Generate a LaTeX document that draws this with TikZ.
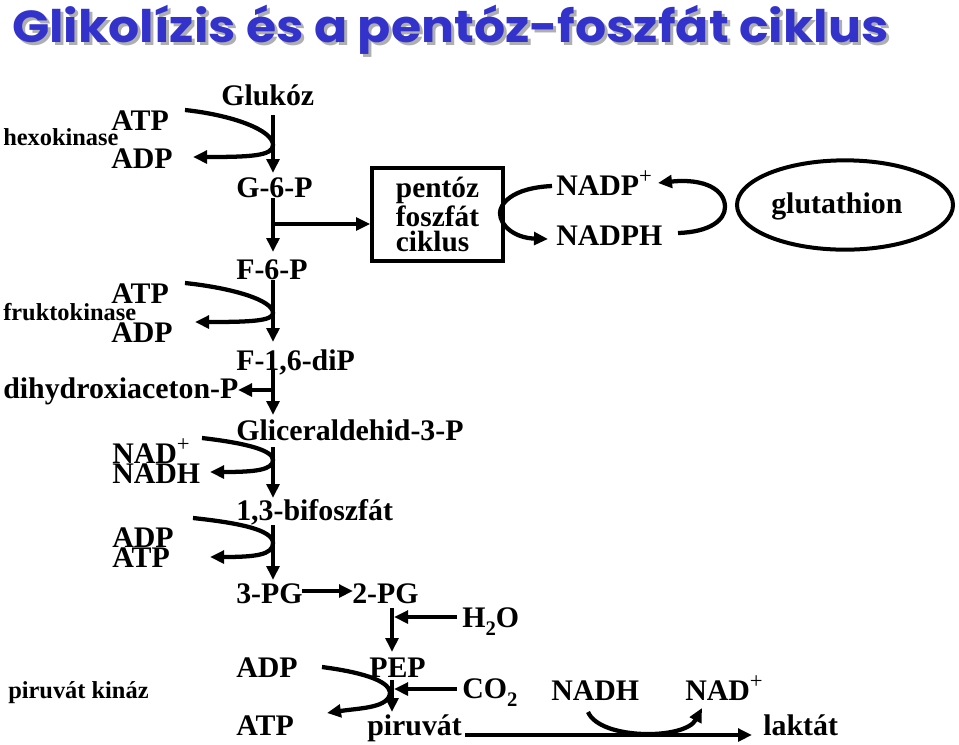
\documentclass[tikz,border=0pt]{standalone}
\usepackage{fontspec}
\setmainfont{Liberation Serif}
\newfontfamily\titlefam{Poppins}
\usetikzlibrary{arrows.meta,shapes.geometric}
\definecolor{titleblue}{RGB}{51,51,204}
\definecolor{shadowgray}{RGB}{175,175,175}
\newcommand\mainfs{\fontsize{22.4}{25}\selectfont\bfseries}
\newcommand\smallfs{\fontsize{18.3}{20}\selectfont\bfseries}
\newcommand\supp[1]{\raisebox{0.4em}{\fontsize{17}{17}\selectfont\mdseries #1}}
\newcommand\subb[1]{\raisebox{-0.3em}{\fontsize{15.5}{15.5}\selectfont #1}}
\newcommand\titletext{\resizebox*{657pt}{37pt}{\titlefam\bfseries Glikolízis és a pentóz-foszfát ciklus}}
\tikzset{
  lbl/.style={anchor=base west, inner sep=0pt, font=\mainfs},
  sml/.style={anchor=base west, inner sep=0pt, font=\smallfs},
  arr/.style={line width=3pt, -{Triangle[length=10.5pt,width=9.5pt]}},
  curv/.style={line width=3.2pt, -{Triangle[length=10.5pt,width=9.5pt]}}
}
\begin{document}
\begin{tikzpicture}[x=0.75pt,y=-0.75pt]
\useasboundingbox (0,0) rectangle (959,744);
% title
\node[anchor=north west, inner sep=0pt, text=shadowgray] (titleshadow) at (15,8) {\titletext};
\node[anchor=north west, inner sep=0pt, text=titleblue] (title) at (12,5) {\titletext};
% labels
\node[lbl] (gluk) at (221,105) {Glukóz};
\node[lbl] (hATP) at (111,130) {ATP};
\node[sml] (hexo) at (3,145) {hexokinase};
\node[lbl] (hADP) at (111,168) {ADP};
\node[lbl] (g6p) at (236,197) {G-6-P};
\node[lbl] (f6p) at (236,279) {F-6-P};
\node[lbl] (fATP) at (111,303) {ATP};
\node[sml] (frukto) at (3,320) {fruktokinase};
\node[lbl] (fADP) at (111,342) {ADP};
\node[lbl] (f16) at (236,370) {F-1,6-diP};
\node[lbl] (dhap) at (3,398) {dihydroxiaceton-P};
\node[lbl] (gap) at (236,440) {Gliceraldehid-3-P};
\node[lbl] (nadp) at (112,463) {NAD\supp{+}};
\node[lbl] (nadh) at (112,483) {NADH};
\node[lbl] (bif) at (236,520) {1,3-bifoszfát};
\node[lbl] (adp2) at (112,547) {ADP};
\node[lbl] (atp2) at (112,567) {ATP};
\node[lbl] (pg3) at (236,603) {3-PG};
\node[lbl] (pg2) at (352,603) {2-PG};
\node[lbl] (h2o) at (462,627) {H\subb{2}O};
\node[lbl] (adp3) at (236,677) {ADP};
\node[lbl] (pep) at (369,677) {PEP};
\node[sml] (pk) at (8,698) {piruvát kináz};
\node[lbl] (co2) at (462,698) {CO\subb{2}};
\node[lbl] (nadhb) at (551,700) {NADH};
\node[lbl] (nadpb) at (685,700) {NAD\supp{+}};
\node[lbl] (atp3) at (236,735) {ATP};
\node[lbl] (pyr) at (367,735) {piruvát};
\node[lbl] (lak) at (763,735) {laktát};
\node[lbl] (nadpp) at (556,195) {NADP\supp{+}};
\node[lbl] (nadph) at (556,245) {NADPH};
\node[lbl] (glut) at (771,213) {glutathion};
% pentose box and ellipse
\node[draw, line width=3pt, minimum width=98pt, minimum height=69.5pt, inner sep=0pt,
      align=left, font=\mainfs\fontsize{22}{18.75}\selectfont] (ppp) at (437.5,214.5) {pentóz\\foszfát\\ciklus};
\node[draw, ellipse, line width=3pt, minimum width=162pt, minimum height=67pt] (ell) at (845,205) {};
% spine coordinates
\coordinate (s1) at (273,115); \coordinate (e1) at (273,173);
\coordinate (s2) at (273,198); \coordinate (e2) at (273,252);
\coordinate (b2) at (273,224);
\coordinate (s3) at (273,280); \coordinate (e3) at (273,342);
\coordinate (s4) at (273,370); \coordinate (e4) at (273,415);
\coordinate (b4) at (273,390); \coordinate (t4) at (238,390);
\coordinate (s5) at (273,447); \coordinate (e5) at (273,498);
\coordinate (s6) at (273,525); \coordinate (e6) at (273,580);
\coordinate (s7) at (302,591); \coordinate (e7) at (353,591);
\coordinate (s8) at (392,608); \coordinate (e8) at (392,652);
\coordinate (w8) at (457,617); \coordinate (t8) at (394,617);
\coordinate (s9) at (392,680); \coordinate (e9) at (392,712);
\coordinate (w9) at (457,689); \coordinate (t9) at (394,689);
\coordinate (s10) at (465,735); \coordinate (e10) at (752,735);
% main arrows
\draw[arr] (s1) -- (e1);
\draw[arr] (s2) -- (e2);
\draw[arr] (b2) -- (b2 -| ppp.west);
\draw[arr] (s3) -- (e3);
\draw[arr] (s4) -- (e4);
\draw[arr] (b4) -- (t4);
\draw[arr] (s5) -- (e5);
\draw[arr] (s6) -- (e6);
\draw[arr] (s7) -- (e7);
\draw[arr] (s8) -- (e8);
\draw[arr] (w8) -- (t8);
\draw[arr] (s9) -- (e9);
\draw[arr] (w9) -- (t9);
\draw[arr] (s10) -- (e10);
% cofactor curves
\coordinate (c1a) at (185,110); \coordinate (c1m) at (273,145); \coordinate (c1b) at (193,157);
\draw[curv] (c1a) .. controls (232,115) and (273,130) .. (c1m) .. controls (273,156) and (250,157) .. (c1b);
\coordinate (c2a) at (185,283); \coordinate (c2m) at (273,313); \coordinate (c2b) at (195,322);
\draw[curv] (c2a) .. controls (232,288) and (273,300) .. (c2m) .. controls (273,321) and (250,322) .. (c2b);
\coordinate (c3a) at (202,438); \coordinate (c3m) at (273,460); \coordinate (c3b) at (210,472);
\draw[curv] (c3a) .. controls (245,443) and (273,450) .. (c3m) .. controls (273,470) and (255,472) .. (c3b);
\coordinate (c4a) at (193,518); \coordinate (c4m) at (273,543); \coordinate (c4b) at (210,557);
\draw[curv] (c4a) .. controls (240,523) and (273,530) .. (c4m) .. controls (273,555) and (255,557) .. (c4b);
\coordinate (c5a) at (322,667); \coordinate (c5m) at (390,692); \coordinate (c5b) at (327,713);
\draw[curv] (c5a) .. controls (360,672) and (388,680) .. (c5m) .. controls (390,708) and (360,708) .. (c5b);
\coordinate (c6a) at (588,712); \coordinate (c6b) at (702,708);
\draw[curv] (c6a) .. controls (600,740) and (685,740) .. (c6b);
% NADP cycle
\coordinate (c7a) at (552,186); \coordinate (c7b) at (548,239);
\draw[curv] (c7a) .. controls (510,188) and (500,205) .. (500,213) .. controls (500,226) and (515,238) .. (c7b);
\coordinate (c8a) at (678,233); \coordinate (c8b) at (658,183);
\draw[curv] (c8a) .. controls (710,232) and (725,220) .. (725,207) .. controls (725,190) and (705,178) .. (c8b);
\end{tikzpicture}
\end{document}
